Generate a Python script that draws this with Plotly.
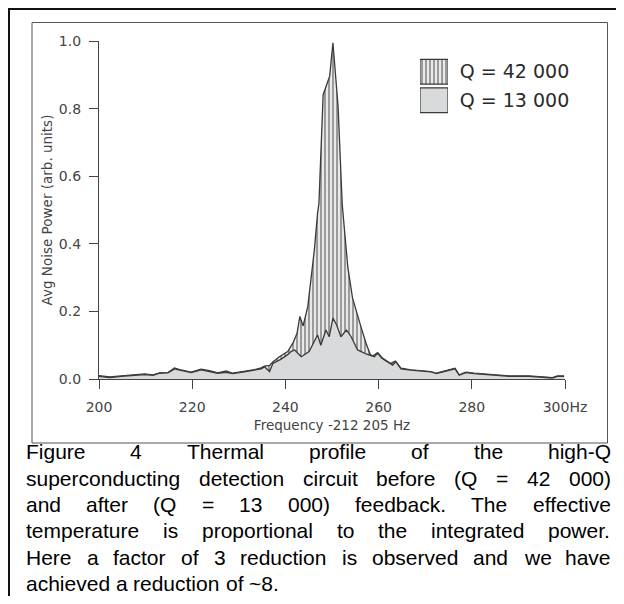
import plotly.graph_objects as go

# ---------------- data ----------------
freq_q42 = [200.0, 202.3, 204.8, 207.6, 209.8, 211.6, 213.0, 214.8, 216.2, 217.3, 219.8,
            221.9, 223.7, 225.5, 227.3, 228.7, 231.2, 233.4, 234.8, 235.5, 236.6, 237.3,
            238.7, 240.5, 241.6, 242.5, 243.1, 243.8, 244.8, 245.5, 246.2, 246.9, 247.2,
            248.1, 249.5, 250.2, 251.3, 252.2, 252.8, 253.4, 254.4, 255.3, 256.2, 257.3,
            258.2, 258.7, 259.8, 260.9, 262.6, 263.6, 264.8, 266.9, 269.4, 271.2, 272.4,
            274.4, 276.4, 277.3, 278.7, 280.5, 282.3, 285.2, 288.0, 292.3, 295.1, 297.3,
            298.4, 299.8]
power_q42 = [0.010, 0.006, 0.009, 0.012, 0.015, 0.012, 0.018, 0.019, 0.033, 0.028, 0.020,
             0.029, 0.025, 0.018, 0.024, 0.017, 0.022, 0.028, 0.033, 0.038, 0.040, 0.050,
             0.066, 0.081, 0.106, 0.135, 0.185, 0.157, 0.214, 0.290, 0.380, 0.490, 0.520,
             0.841, 0.896, 0.995, 0.807, 0.515, 0.430, 0.330, 0.240, 0.195, 0.155, 0.106,
             0.073, 0.068, 0.078, 0.061, 0.046, 0.053, 0.032, 0.027, 0.025, 0.022, 0.017,
             0.025, 0.032, 0.012, 0.020, 0.017, 0.015, 0.012, 0.009, 0.009, 0.007, 0.004,
             0.009, 0.009]

freq_q13 = [200.0, 202.3, 204.8, 207.6, 209.8, 211.6, 213.0, 214.8, 216.2, 217.3, 219.8,
            221.9, 223.7, 225.5, 227.3, 228.7, 231.2, 233.4, 234.8, 235.5, 236.6, 237.3,
            239.0, 240.5, 241.2, 242.0, 243.4, 245.1, 246.9, 247.6, 248.7, 249.4, 250.2,
            251.0, 251.9, 253.1, 254.1, 255.5, 257.3, 259.1, 259.8, 260.7, 263.0, 263.7,
            264.8, 266.9, 269.4, 271.2, 272.4, 274.4, 276.4, 277.3, 278.7, 280.5, 282.3,
            285.2, 288.0, 292.3, 295.1, 297.3, 298.4, 299.8]
power_q13 = [0.008, 0.004, 0.008, 0.011, 0.013, 0.011, 0.017, 0.018, 0.030, 0.026, 0.019,
             0.027, 0.023, 0.017, 0.020, 0.016, 0.021, 0.026, 0.030, 0.036, 0.022, 0.046,
             0.058, 0.072, 0.081, 0.086, 0.066, 0.081, 0.130, 0.100, 0.145, 0.125, 0.180,
             0.160, 0.125, 0.145, 0.125, 0.086, 0.074, 0.066, 0.076, 0.061, 0.041, 0.051,
             0.030, 0.026, 0.024, 0.021, 0.016, 0.024, 0.030, 0.011, 0.019, 0.016, 0.014,
             0.011, 0.008, 0.008, 0.006, 0.003, 0.008, 0.008]

series_names = ["Q = 42 000", "Q = 13 000"]
x_tickvals = [200, 220, 240, 260, 280, 300]
x_ticktext = ["200", "220", "240", "260", "280", "300Hz"]
y_tickvals = [0.0, 0.2, 0.4, 0.6, 0.8, 1.0]
y_ticktext = ["0.0", "0.2", "0.4", "0.6", "0.8", "1.0"]
x_title = "Frequency -212 205 Hz"
y_title = "Avg Noise Power (arb. units)"
caption_lines = [
    "Figure 4 Thermal profile of the high-Q",
    "superconducting detection circuit before (Q = 42 000)",
    "and after (Q = 13 000) feedback. The effective",
    "temperature is proportional to the integrated power.",
    "Here a factor of 3 reduction is observed and we have",
    "achieved a reduction of ~8.",
]

# ---------------- layout helpers (screen pixel coordinates) ----------------
OFF = 8                      # page body margin in the browser
W, H = 624 - 2 * OFF, 604 - 2 * OFF
L, R, T, B = 99, 565, 41, 379  # plot area on screen
PW, PH = R - L, B - T


def px_x(px):
    return (px - L) / PW


def px_y(py):
    return (B - py) / PH


FONT = "DejaVu Sans"
DARK = "#3a3a3a"
AXC = "#444444"
GRAY = "#d9dadb"
HATCH_BG = "#e9e9e9"

fig = go.Figure()

fig.add_trace(go.Scatter(
    x=freq_q42, y=power_q42, mode="lines", name=series_names[0],
    line=dict(color=DARK, width=1.3), fill="tozeroy",
    fillpattern=dict(shape="|", fgcolor=DARK, bgcolor=HATCH_BG, size=4, solidity=0.45),
    showlegend=False, hoverinfo="skip"))
fig.add_trace(go.Scatter(
    x=freq_q13, y=power_q13, mode="lines", name=series_names[1],
    line=dict(color=DARK, width=1.3), fill="tozeroy", fillcolor=GRAY,
    showlegend=False, hoverinfo="skip"))

# legend boxes drawn as bars on an auxiliary axis pair
fig.add_trace(go.Bar(
    x=[1], y=[series_names[0]], orientation="h", base=0, width=0.87,
    xaxis="x2", yaxis="y2", showlegend=False, hoverinfo="skip",
    marker=dict(color=HATCH_BG, line=dict(color=DARK, width=1.2),
                pattern=dict(shape="|", fgcolor=DARK, bgcolor=HATCH_BG, size=4, solidity=0.45))))
fig.add_trace(go.Bar(
    x=[1], y=[series_names[1]], orientation="h", base=0, width=0.87,
    xaxis="x2", yaxis="y2", showlegend=False, hoverinfo="skip",
    marker=dict(color=GRAY, line=dict(color=DARK, width=1.2))))

shapes = [
    dict(type="rect", xref="paper", yref="paper",
         x0=px_x(9), y0=px_y(9), x1=px_x(700), y1=px_y(700),
         line=dict(color="#111111", width=2)),
    dict(type="rect", xref="paper", yref="paper",
         x0=px_x(32), y0=px_y(22.5), x1=px_x(607.5), y1=px_y(443),
         line=dict(color="#555555", width=1)),
]

# ---------------- justified caption ----------------
ARIAL = {
    ' ': 278, 'a': 556, 'b': 556, 'c': 500, 'd': 556, 'e': 556, 'f': 278, 'g': 556,
    'h': 556, 'i': 222, 'j': 222, 'k': 500, 'l': 222, 'm': 833, 'n': 556, 'o': 556,
    'p': 556, 'q': 556, 'r': 333, 's': 500, 't': 278, 'u': 556, 'v': 500, 'w': 722,
    'x': 500, 'y': 500, 'z': 500, 'A': 667, 'F': 611, 'H': 722, 'Q': 778, 'T': 611,
    '(': 333, ')': 333, '=': 584, '-': 333, '.': 278, '~': 584,
}
CAP_SIZE = 21
CAP_LEFT, CAP_RIGHT = 25, 610
CAP_Y0, CAP_DY = 452, 26.3


def tw(s):
    return sum(ARIAL.get(ch, 556) for ch in s) / 1000.0 * CAP_SIZE


annotations = []
for i, line in enumerate(caption_lines):
    words = line.split()
    widths = [tw(w) for w in words]
    if i < len(caption_lines) - 1 and len(words) > 1:
        gap = (CAP_RIGHT - CAP_LEFT - sum(widths)) / (len(words) - 1)
    else:
        gap = tw(" ")
    xpos = CAP_LEFT
    yc = CAP_Y0 + CAP_DY * i
    for w, wd in zip(words, widths):
        annotations.append(dict(
            text=w, x=px_x(xpos), y=px_y(yc), xref="paper", yref="paper",
            xanchor="left", yanchor="middle", showarrow=False, borderpad=0,
            font=dict(family="Liberation Sans, Arial", size=CAP_SIZE, color="#000000")))
        xpos += wd + gap

fig.update_layout(
    width=W, height=H,
    margin=dict(l=L - OFF, r=W - (R - OFF), t=T - OFF, b=H - (B - OFF), pad=0),
    paper_bgcolor="white", plot_bgcolor="white",
    font=dict(family=FONT, color=AXC),
    barmode="overlay",
    shapes=shapes, annotations=annotations,
    xaxis=dict(range=[200, 300], tickvals=x_tickvals, ticktext=x_ticktext,
               showgrid=False, zeroline=False, showline=True, linecolor=AXC, linewidth=1.2,
               ticks="outside", ticklen=9, tickwidth=1.2, tickcolor=AXC,
               tickfont=dict(size=14, color=AXC), ticklabelstandoff=6,
               title=dict(text=x_title, font=dict(size=13.5, color=AXC), standoff=6)),
    yaxis=dict(range=[0, 1.0], tickvals=y_tickvals, ticktext=y_ticktext,
               showgrid=False, zeroline=False, showline=True, linecolor=AXC, linewidth=1.2,
               ticks="outside", ticklen=9, tickwidth=1.2, tickcolor=AXC,
               tickfont=dict(size=14, color=AXC), ticklabelstandoff=5,
               title=dict(text=y_title, font=dict(size=13.5, color=AXC), standoff=3)),
    xaxis2=dict(domain=[px_x(420), px_x(448)], range=[0, 1], anchor="y2",
                visible=False, fixedrange=True),
    yaxis2=dict(domain=[px_y(114.5), px_y(57.5)], anchor="x2", side="right",
                range=[1.5, -0.5], type="category",
                categoryorder="array", categoryarray=series_names,
                showgrid=False, zeroline=False, showline=False,
                ticks="outside", ticklen=7, tickcolor="rgba(0,0,0,0)",
                tickfont=dict(size=19, color="#2a2a2a", family=FONT), fixedrange=True),
)

fig.write_html("out.html")
